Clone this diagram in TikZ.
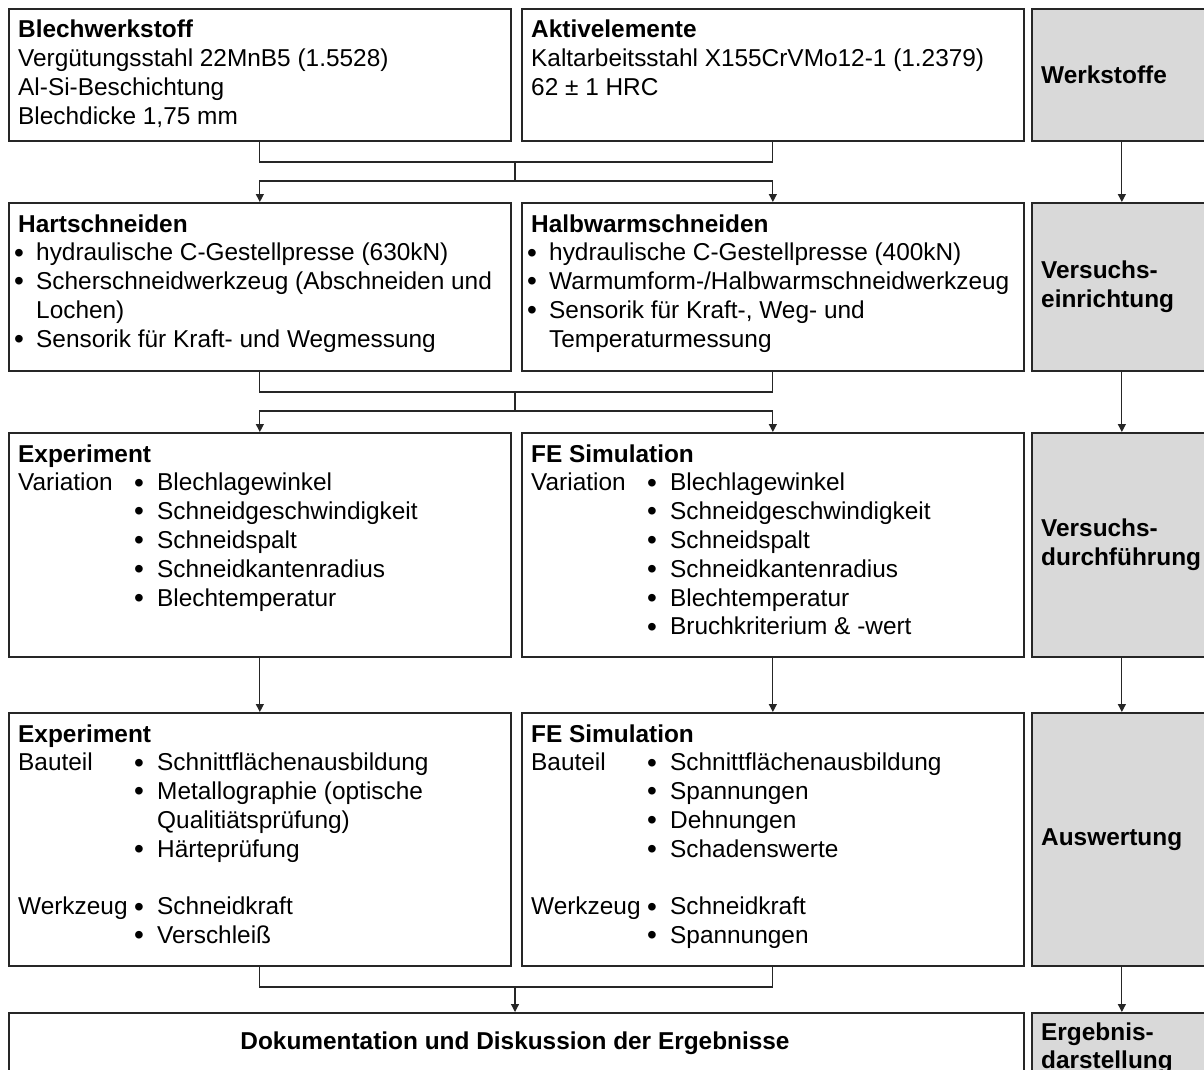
\documentclass[tikz,border=0pt]{standalone}
\usepackage{fontspec}
\setmainfont{Liberation Sans}
\usetikzlibrary{arrows.meta}
\definecolor{panel}{HTML}{D9D9D9}
\newcommand\fsz{\fontsize{24.4}{28.8}\selectfont}
\newcommand\txtlines[1]{\begin{tabular}[t]{@{}l@{}}#1\end{tabular}}
\newcommand\dotmark{\smash{\raisebox{-1.3pt}{\scalebox{1.15}{\textbullet}}}}
\newcommand\blt{\makebox[18pt][l]{\hspace*{-4pt}\dotmark}}
\newcommand\rowlab[1]{\makebox[116pt][l]{#1}\makebox[23pt][l]{\dotmark}}
\tikzset{
  box/.style={draw=black!85, line width=1.7pt, fill=white, anchor=north west, inner sep=0pt, minimum width=502pt},
  side/.style={box, fill=panel, minimum width=180pt},
  txt/.style={anchor=base west, inner sep=0pt, font=\fsz},
  head/.style={anchor=west, inner sep=0pt, align=left, font=\fsz\bfseries},
  conn/.style={line width=1.2pt, black!85},
  arr/.style={conn, -{Triangle[length=8pt,width=8pt]}}}

\begin{document}
\begin{tikzpicture}[x=1pt, y=-1pt]
\useasboundingbox (0,0) rectangle (1204,1070);
\clip (0,0) rectangle (1204,1070);
% boxes
\node[box, minimum height=132pt] (blech) at (8,8) {};
\node[box, minimum height=132pt] (akt) at (521,8) {};
\node[side, minimum height=132pt] (werk) at (1031,8) {};
\node[box, minimum height=168pt] (hart) at (8,202) {};
\node[box, minimum height=168pt] (halb) at (521,202) {};
\node[side, minimum height=168pt] (einr) at (1031,202) {};
\node[box, minimum height=224pt] (exp) at (8,432) {};
\node[box, minimum height=224pt] (sim) at (521,432) {};
\node[side, minimum height=224pt] (durch) at (1031,432) {};
\node[box, minimum height=253pt] (expa) at (8,712) {};
\node[box, minimum height=253pt] (sima) at (521,712) {};
\node[side, minimum height=253pt] (ausw) at (1031,712) {};
\node[box, minimum width=1015pt, minimum height=80pt] (doku) at (8,1012) {};
\node[side, minimum height=80pt] (erg) at (1031,1012) {};
% texts
\node[txt] (blechtxt) at ([shift={(10,30)}]blech.north west) {\txtlines{\textbf{Blechwerkstoff}\\Vergütungsstahl 22MnB5 (1.5528)\\Al-Si-Beschichtung\\Blechdicke 1,75 mm}};
\node[txt] (akttxt) at ([shift={(10,30)}]akt.north west) {\txtlines{\textbf{Aktivelemente}\\Kaltarbeitsstahl X155CrVMo12-1 (1.2379)\\62 ± 1 HRC}};
\node[txt] (harttxt) at ([shift={(10,30)}]hart.north west) {\txtlines{\textbf{Hartschneiden}\\\blt hydraulische C-Gestellpresse (630kN)\\\blt Scherschneidwerkzeug (Abschneiden und\\\hspace*{18pt}Lochen)\\\blt Sensorik für Kraft- und Wegmessung}};
\node[txt] (halbtxt) at ([shift={(10,30)}]halb.north west) {\txtlines{\textbf{Halbwarmschneiden}\\\blt hydraulische C-Gestellpresse (400kN)\\\blt Warmumform-/Halbwarmschneidwerkzeug\\\blt Sensorik für Kraft-, Weg- und\\\hspace*{18pt}Temperaturmessung}};
\node[txt] (exptxt) at ([shift={(10,30)}]exp.north west) {\txtlines{\textbf{Experiment}\\\rowlab{Variation}Blechlagewinkel\\\rowlab{}Schneidgeschwindigkeit\\\rowlab{}Schneidspalt\\\rowlab{}Schneidkantenradius\\\rowlab{}Blechtemperatur}};
\node[txt] (simtxt) at ([shift={(10,30)}]sim.north west) {\txtlines{\textbf{FE Simulation}\\\rowlab{Variation}Blechlagewinkel\\\rowlab{}Schneidgeschwindigkeit\\\rowlab{}Schneidspalt\\\rowlab{}Schneidkantenradius\\\rowlab{}Blechtemperatur\\\rowlab{}Bruchkriterium \& -wert}};
\node[txt] (expatxt) at ([shift={(10,30)}]expa.north west) {\txtlines{\textbf{Experiment}\\\rowlab{Bauteil}Schnittflächenausbildung\\\rowlab{}Metallographie (optische\\\hspace*{139pt}Qualitiätsprüfung)\\\rowlab{}Härteprüfung\\\mbox{}\\\rowlab{Werkzeug}Schneidkraft\\\rowlab{}Verschleiß}};
\node[txt] (simatxt) at ([shift={(10,30)}]sima.north west) {\txtlines{\textbf{FE Simulation}\\\rowlab{Bauteil}Schnittflächenausbildung\\\rowlab{}Spannungen\\\rowlab{}Dehnungen\\\rowlab{}Schadenswerte\\\mbox{}\\\rowlab{Werkzeug}Schneidkraft\\\rowlab{}Spannungen}};
\node[inner sep=0pt, font=\fsz\bfseries] (dokutxt) at (515,1043) {Dokumentation und Diskussion der Ergebnisse};
\node[head] (werktxt) at ([xshift=10pt]werk.west) {Werkstoffe};
\node[head] (einrtxt) at ([xshift=10pt]einr.west) {Versuchs-\\einrichtung};
\node[head] (durchtxt) at ([xshift=10pt]durch.west) {Versuchs-\\durchführung};
\node[head] (auswtxt) at ([xshift=10pt]ausw.west) {Auswertung};
\node[txt, font=\fsz\bfseries] (ergtxt) at ([shift={(10,28)}]erg.north west) {\txtlines{Ergebnis-\\darstellung}};
% connectors
\coordinate (j1) at (515,162);
\coordinate (j2) at (515,181);
\coordinate (j3) at (515,392);
\coordinate (j4) at (515,411);
\coordinate (j5) at (515,987);
\draw[conn] (blech.south) |- (j1) -| (akt.south);
\draw[conn] (j1) -- (j2);
\draw[arr] (j2) -| (hart.north);
\draw[arr] (j2) -| (halb.north);
\draw[conn] (hart.south) |- (j3) -| (halb.south);
\draw[conn] (j3) -- (j4);
\draw[arr] (j4) -| (exp.north);
\draw[arr] (j4) -| (sim.north);
\draw[arr] (exp.south) -- (expa.north);
\draw[arr] (sim.south) -- (sima.north);
\draw[conn] (expa.south) |- (j5) -| (sima.south);
\draw[arr] (j5) -- (j5 |- doku.north);
\draw[arr] (werk.south) -- (einr.north);
\draw[arr] (einr.south) -- (durch.north);
\draw[arr] (durch.south) -- (ausw.north);
\draw[arr] (ausw.south) -- (erg.north);
\end{tikzpicture}
\end{document}
